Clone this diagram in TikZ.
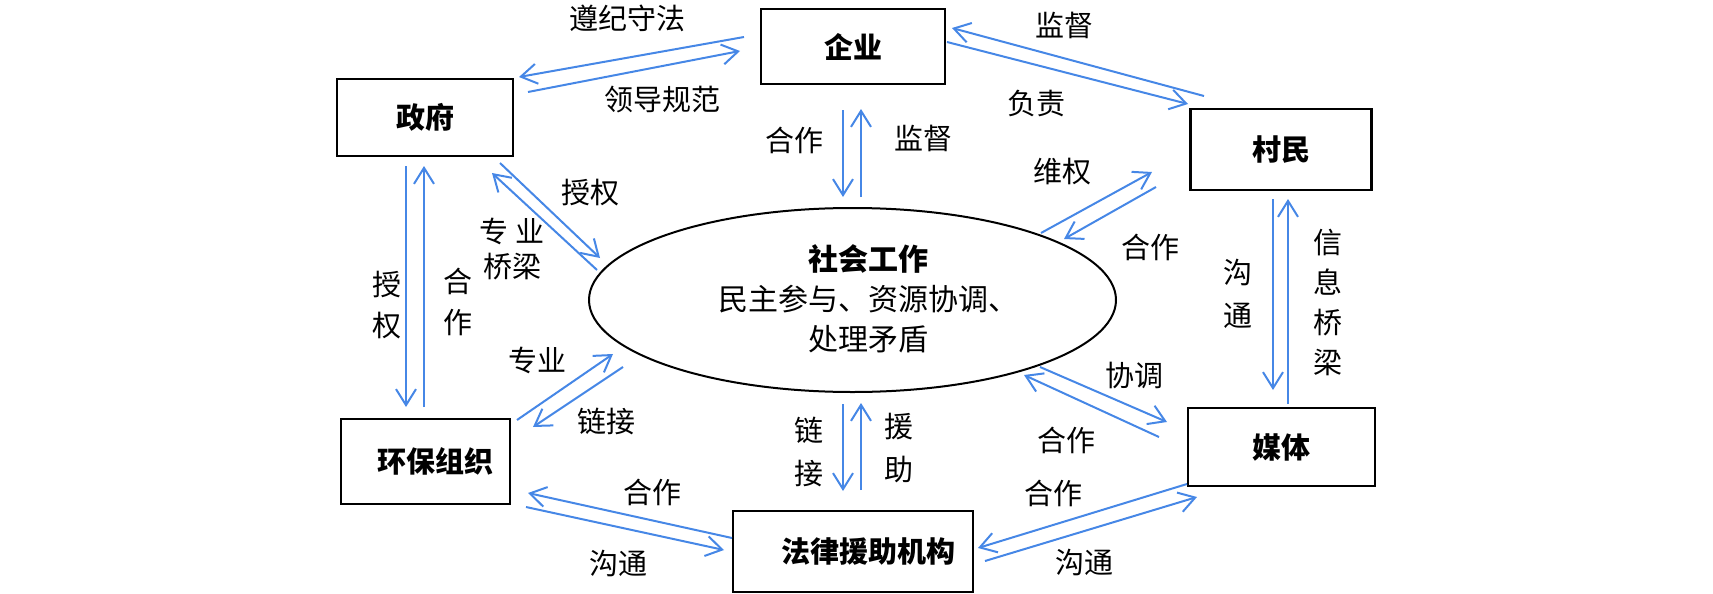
\documentclass[tikz,border=0pt]{standalone}
\usepackage{fontspec}
\setmainfont{Noto Sans CJK SC}
\usetikzlibrary{arrows.meta,shapes.geometric}
\definecolor{linkblue}{RGB}{70,135,230}

\begin{document}
\begin{tikzpicture}[x=0.5pt,y=-0.5pt,
  box/.style={draw,line width=1.1pt,inner sep=0pt,font=\fontsize{14.5}{17}\selectfont\bfseries},
  lab/.style={inner sep=0pt,font=\fontsize{14.5}{17}\selectfont},
  vlab/.style={inner sep=0pt,align=center,font=\fontsize{14.5}{20.5}\selectfont},
  link/.style={draw=linkblue,line width=1pt,-{Straight Barb[length=8pt,width=10pt]}}]
\useasboundingbox (0,0) rectangle (1713,594);

\node[box,minimum width=92pt,minimum height=37.5pt] (qy) at (853,46.5) {企业};
\node[box,minimum width=88pt,minimum height=38.5pt] (zf) at (425,117.5) {政府};
\node[box,minimum width=90.5pt,minimum height=40.5pt] (cm) at (1281,149.5) {村民};
\node[box,minimum width=84.5pt,minimum height=42.5pt] (hb) at (425.5,461.5) {\hspace*{10pt}环保组织};
\node[box,minimum width=120pt,minimum height=40.5pt] (fl) at (853,551.5) {\hspace*{15pt}法律援助机构};
\node[box,minimum width=93.5pt,minimum height=39pt] (mt) at (1281.5,447) {媒体};
\node[draw,ellipse,line width=1pt,minimum width=263.5pt,minimum height=92pt,inner sep=0pt] (sg) at (852.5,300) {};
\node[align=center,font=\fontsize{15}{20}\selectfont] (sgt) at (868,299) {{\bfseries 社会工作}\\民主参与、资源协调、\\处理矛盾};

% end points of the arrow pairs
\coordinate (a1) at (744,37);   \coordinate (b1) at (519,77);
\coordinate (a2) at (528,92);   \coordinate (b2) at (740,51);
\coordinate (a3) at (843,110);  \coordinate (b3) at (843,197);
\coordinate (a4) at (861,197);  \coordinate (b4) at (861,109);
\coordinate (a5) at (1204,96);  \coordinate (b5) at (952,28);
\coordinate (a6) at (947,42);   \coordinate (b6) at (1188,104);
\coordinate (a7) at (1041,233); \coordinate (b7) at (1152,172);
\coordinate (a8) at (1156,187); \coordinate (b8) at (1064,239);
\coordinate (a9) at (500,163);  \coordinate (b9) at (600,258);
\coordinate (a10) at (597,270); \coordinate (b10) at (492,173);
\coordinate (a11) at (406,166); \coordinate (b11) at (406,407);
\coordinate (a12) at (424,407); \coordinate (b12) at (424,166);
\coordinate (a13) at (517,420); \coordinate (b13) at (613,354);
\coordinate (a14) at (623,367); \coordinate (b14) at (533,427);
\coordinate (a15) at (843,404); \coordinate (b15) at (843,491);
\coordinate (a16) at (861,490); \coordinate (b16) at (861,403);
\coordinate (a17) at (732,538); \coordinate (b17) at (528,493);
\coordinate (a18) at (526,507); \coordinate (b18) at (724,550);
\coordinate (a19) at (1040,367); \coordinate (b19) at (1167,422);
\coordinate (a20) at (1159,437); \coordinate (b20) at (1024,375);
\coordinate (a21) at (1187,484); \coordinate (b21) at (978,548);
\coordinate (a22) at (985,561); \coordinate (b22) at (1197,497);
\coordinate (a23) at (1273,199); \coordinate (b23) at (1273,390);
\coordinate (a24) at (1288,404); \coordinate (b24) at (1288,199);

\path[link] (a1) -- (b1);
\path[link] (a2) -- (b2);
\path[link] (a3) -- (b3);
\path[link] (a4) -- (b4);
\path[link] (a5) -- (b5);
\path[link] (a6) -- (b6);
\path[link] (a7) -- (b7);
\path[link] (a8) -- (b8);
\path[link] (a9) -- (b9);
\path[link] (a10) -- (b10);
\path[link] (a11) -- (b11);
\path[link] (a12) -- (b12);
\path[link] (a13) -- (b13);
\path[link] (a14) -- (b14);
\path[link] (a15) -- (b15);
\path[link] (a16) -- (b16);
\path[link] (a17) -- (b17);
\path[link] (a18) -- (b18);
\path[link] (a19) -- (b19);
\path[link] (a20) -- (b20);
\path[link] (a21) -- (b21);
\path[link] (a22) -- (b22);
\path[link] (a23) -- (b23);
\path[link] (a24) -- (b24);

\node[lab] (l1) at (627,18) {遵纪守法};
\node[lab] (l2) at (662,100) {领导规范};
\node[lab] (l3) at (794,140) {合作};
\node[lab] (l4) at (923,138) {监督};
\node[lab] (l5) at (1064,25) {监督};
\node[lab] (l6) at (1036,104) {负责};
\node[lab] (l7) at (1062,172) {维权};
\node[lab] (l8) at (1150,247) {合作};
\node[lab] (l9) at (590,193) {授权};
\node[vlab,font=\fontsize{14.5}{17.5}\selectfont] (l10) at (512,249.5) {专\ 业\\桥梁};
\node[vlab] (l11) at (387,305.5) {授\\权};
\node[vlab] (l12) at (458,302) {合\\作};
\node[lab] (l13) at (537,360) {专业};
\node[lab] (l14) at (606,421) {链接};
\node[vlab,font=\fontsize{14.5}{21.5}\selectfont] (l15) at (809,451.5) {链\\接};
\node[vlab,font=\fontsize{14.5}{21.5}\selectfont] (l16) at (899,448.5) {援\\助};
\node[lab] (l17) at (652,492) {合作};
\node[lab] (l18) at (618,564) {沟通};
\node[lab] (l19) at (1134,375) {协调};
\node[lab] (l20) at (1066,440) {合作};
\node[lab] (l21) at (1053,493) {合作};
\node[lab] (l22) at (1084,563) {沟通};
\node[vlab,font=\fontsize{14.5}{21.5}\selectfont] (l23) at (1238,293.5) {沟\\通};
\node[vlab,font=\fontsize{14.5}{20}\selectfont] (l24) at (1328,302.5) {信\\息\\桥\\梁};
\end{tikzpicture}
\end{document}
